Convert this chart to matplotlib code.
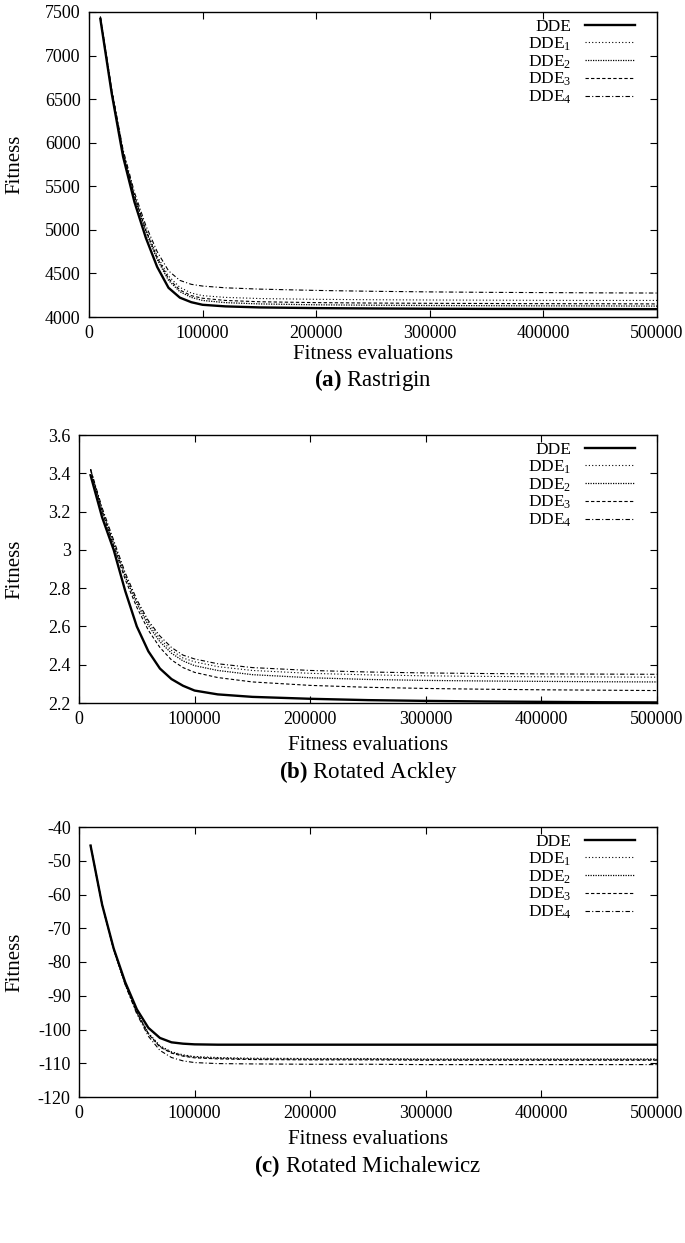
import matplotlib
matplotlib.use("Agg")
import matplotlib.pyplot as plt
from matplotlib.ticker import FixedLocator, FuncFormatter

plt.rcParams['font.family'] = ['Liberation Serif', 'DejaVu Serif']
plt.rcParams['mathtext.fontset'] = 'custom'
plt.rcParams['mathtext.rm'] = 'Liberation Serif'
plt.rcParams['mathtext.it'] = 'Liberation Serif'
plt.rcParams['mathtext.bf'] = 'Liberation Serif:bold'

# ---------------- data ----------------
evals = [10000, 20000, 30000, 40000, 50000, 60000, 70000, 80000, 90000, 100000,
         120000, 150000, 200000, 250000, 300000, 350000, 400000, 450000, 500000]

series_names = ["DDE", "DDE$_1$", "DDE$_2$", "DDE$_3$", "DDE$_4$"]

# (a) Rastrigin
rast_dde  = [7420, 6565, 5840, 5320, 4910, 4575, 4335, 4222, 4170, 4140, 4122, 4110, 4102, 4098, 4095, 4093, 4092, 4091, 4090]
rast_dde1 = [7440, 6600, 5900, 5400, 5010, 4700, 4470, 4340, 4275, 4245, 4225, 4212, 4203, 4198, 4195, 4193, 4191, 4190, 4190]
rast_dde2 = [7440, 6590, 5880, 5380, 4980, 4660, 4420, 4290, 4225, 4190, 4165, 4150, 4140, 4135, 4132, 4130, 4128, 4127, 4125]
rast_dde3 = [7440, 6595, 5890, 5390, 4995, 4680, 4440, 4310, 4245, 4215, 4190, 4175, 4165, 4160, 4157, 4155, 4153, 4152, 4150]
rast_dde4 = [7450, 6610, 5920, 5430, 5050, 4750, 4530, 4420, 4375, 4355, 4335, 4320, 4305, 4295, 4288, 4283, 4280, 4277, 4275]

# (b) Rotated Ackley
ack_dde  = [3.39, 3.17, 3.00, 2.785, 2.60, 2.47, 2.38, 2.325, 2.29, 2.265, 2.245, 2.232, 2.222, 2.215, 2.211, 2.208, 2.206, 2.204, 2.203]
ack_dde1 = [3.42, 3.21, 3.04, 2.87, 2.73, 2.62, 2.535, 2.475, 2.435, 2.415, 2.39, 2.37, 2.355, 2.347, 2.342, 2.339, 2.337, 2.336, 2.335]
ack_dde2 = [3.42, 3.205, 3.03, 2.86, 2.72, 2.605, 2.52, 2.46, 2.42, 2.395, 2.37, 2.348, 2.332, 2.323, 2.318, 2.315, 2.313, 2.311, 2.31]
ack_dde3 = [3.42, 3.20, 3.02, 2.845, 2.70, 2.58, 2.49, 2.425, 2.385, 2.36, 2.333, 2.31, 2.292, 2.282, 2.276, 2.272, 2.269, 2.267, 2.265]
ack_dde4 = [3.42, 3.22, 3.05, 2.88, 2.74, 2.63, 2.55, 2.49, 2.45, 2.43, 2.405, 2.385, 2.37, 2.362, 2.357, 2.354, 2.352, 2.351, 2.35]

# (c) Rotated Michalewicz
mich_dde  = [-45.5, -63.0, -76.0, -86.0, -94.0, -99.5, -102.5, -103.8, -104.2, -104.4, -104.5, -104.5, -104.5, -104.5, -104.5, -104.5, -104.5, -104.5, -104.5]
mich_dde1 = [-45.5, -63.0, -76.2, -86.5, -94.8, -101.0, -104.8, -106.6, -107.5, -108.0, -108.3, -108.5, -108.6, -108.6, -108.7, -108.7, -108.7, -108.7, -108.7]
mich_dde2 = [-45.5, -63.0, -76.2, -86.5, -94.9, -101.2, -105.0, -106.8, -107.7, -108.2, -108.5, -108.7, -108.8, -108.8, -108.9, -108.9, -108.9, -108.9, -108.9]
mich_dde3 = [-45.5, -63.0, -76.2, -86.6, -95.0, -101.3, -105.2, -107.0, -107.9, -108.4, -108.7, -108.9, -109.0, -109.0, -109.1, -109.1, -109.1, -109.1, -109.1]
mich_dde4 = [-45.5, -63.0, -76.3, -86.8, -95.4, -102.0, -106.2, -108.3, -109.3, -109.8, -110.1, -110.2, -110.3, -110.3, -110.4, -110.4, -110.4, -110.4, -110.4]

x_ticks = [0, 100000, 200000, 300000, 400000, 500000]
rast_yticks = [4000, 4500, 5000, 5500, 6000, 6500, 7000, 7500]
ack_yticks = [2.2, 2.4, 2.6, 2.8, 3.0, 3.2, 3.4, 3.6]
mich_yticks = [-120, -110, -100, -90, -80, -70, -60, -50, -40]

panels = [
    ("a", "Rastrigin", [rast_dde, rast_dde1, rast_dde2, rast_dde3, rast_dde4], rast_yticks),
    ("b", "Rotated Ackley", [ack_dde, ack_dde1, ack_dde2, ack_dde3, ack_dde4], ack_yticks),
    ("c", "Rotated Michalewicz", [mich_dde, mich_dde1, mich_dde2, mich_dde3, mich_dde4], mich_yticks),
]

# ---------------- styles / layout ----------------
styles = [
    dict(linestyle='-', lw=1.7),
    dict(linestyle=(0, (1, 2)), lw=0.8),
    dict(linestyle=(0, (1, 1)), lw=0.9),
    dict(linestyle=(0, (3, 2)), lw=0.8),
    dict(linestyle=(0, (4, 2, 1, 2)), lw=0.8),
]

W, H = 685, 1243
# pixel boxes: left, right, top, bottom ; xlabel y ; caption y
boxes = [
    (89, 657, 12, 317, 355, 380),
    (79, 657, 435, 703, 746, 772),
    (79, 657, 827, 1097, 1139, 1166),
]

fig = plt.figure(figsize=(W / 100, H / 100), dpi=100)

def fmt_y(v, pos):
    if abs(v - round(v)) < 1e-9:
        return "%d" % round(v)
    return ("%.1f" % v)

for (letter, name, ys, yticks), (l, r, t, b, xl_y, cap_y) in zip(panels, boxes):
    ax = fig.add_axes([l / W, 1 - b / H, (r - l) / W, (b - t) / H])
    for y, nm, st in zip(ys, series_names, styles):
        ax.plot(evals, y, color='black', label=nm, **st)
    ax.set_xlim(0, 500000)
    ax.set_ylim(yticks[0], yticks[-1])
    ax.xaxis.set_major_locator(FixedLocator(x_ticks))
    ax.yaxis.set_major_locator(FixedLocator(yticks))
    ax.xaxis.set_major_formatter(FuncFormatter(lambda v, p: "%d" % v))
    ax.yaxis.set_major_formatter(FuncFormatter(fmt_y))
    ax.tick_params(direction='in', length=5, width=0.8, top=True, right=True,
                   labelsize=13, pad=6, colors='black')
    for sp in ax.spines.values():
        sp.set_linewidth(1.0)
    ax.set_xlabel("Fitness evaluations", fontsize=15)
    ax.xaxis.label.set_va('center')
    ax.xaxis.set_label_coords(0.5, (b - xl_y) / (b - t))
    ax.set_ylabel("Fitness", fontsize=15)
    ax.yaxis.label.set_va('center')
    ax.yaxis.set_label_coords((15 - l) / (r - l), 0.5)
    aw, ah = (r - l), (b - t)
    leg = ax.legend(loc='upper right', markerfirst=False, frameon=False,
                    fontsize=12.5, handlelength=2.9, labelspacing=0.02,
                    handletextpad=0.75, borderaxespad=0.0, borderpad=0.0,
                    bbox_to_anchor=(1 - 22 / aw, 1 - 7 / ah))
    fig.text(((l + r) / 2) / W, 1 - cap_y / H, r"$\mathbf{(%s)}$ %s" % (letter, name),
             ha='center', va='center', fontsize=16.5)

fig.savefig("out.png", dpi=100)
